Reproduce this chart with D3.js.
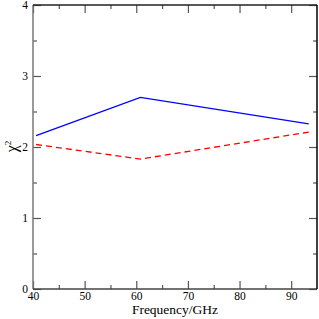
<!DOCTYPE html>
<html>
<head>
<meta charset="utf-8">
<script src="https://cdn.jsdelivr.net/npm/d3@7"></script>
<style>
  body { margin: 0; background: #fff; }
  text { font-family: "Liberation Serif", "DejaVu Serif", serif; }
</style>
</head>
<body>
<div id="chart"></div>
<script>
// values
const freq = [40.6, 60.8, 93.4];
const chiSolid = [2.16, 2.70, 2.325];
const chiDashed = [2.035, 1.83, 2.21];
const xTicks = [40, 50, 60, 70, 80, 90];
const yTicks = [0, 1, 2, 3, 4];

const W = 319, H = 319;
const margin = {top: 5, right: 2, bottom: 30, left: 33};
const width = W - margin.left - margin.right;
const height = H - margin.top - margin.bottom;

const svg = d3.select("#chart").append("svg")
  .attr("width", W)
  .attr("height", H);

const g = svg.append("g")
  .attr("transform", "translate(" + margin.left + "," + margin.top + ")");

const x = d3.scaleLinear().domain([40, 95]).range([0, width]);
const y = d3.scaleLinear().domain([0, 4]).range([height, 0]);

// minor ticks every 5 / 0.5
const xMinor = d3.range(45, 95, 10);
const yMinor = d3.range(0.5, 4, 1);

function tickStyle(sel) {
  sel.select(".domain").remove();
  sel.selectAll("line").attr("stroke", "#555").attr("stroke-width", 1.2);
}

// bottom axis, ticks pointing in
g.append("g")
  .attr("transform", "translate(0," + height + ")")
  .call(d3.axisBottom(x).tickValues(xTicks).tickSizeInner(-8).tickSizeOuter(0))
  .call(tickStyle)
  .call(a => a.selectAll("text").attr("font-size", 11.5).attr("fill", "#000").attr("y", 10.5).attr("dy", 0));
g.append("g")
  .attr("transform", "translate(0," + height + ")")
  .call(d3.axisBottom(x).tickValues(xMinor).tickSizeInner(-4).tickSizeOuter(0).tickFormat(""))
  .call(tickStyle);

// top ticks
g.append("g")
  .call(d3.axisTop(x).tickValues(xTicks).tickSizeInner(-8).tickSizeOuter(0).tickFormat(""))
  .call(tickStyle);
g.append("g")
  .call(d3.axisTop(x).tickValues(xMinor).tickSizeInner(-4).tickSizeOuter(0).tickFormat(""))
  .call(tickStyle);

// left axis
g.append("g")
  .call(d3.axisLeft(y).tickValues(yTicks).tickSizeInner(-8).tickSizeOuter(0).tickPadding(5).tickFormat(d3.format("d")))
  .call(tickStyle)
  .call(a => a.selectAll("text").attr("font-size", 11.5).attr("fill", "#000").attr("dy", "0.34em"));
g.append("g")
  .call(d3.axisLeft(y).tickValues(yMinor).tickSizeInner(-4).tickSizeOuter(0).tickFormat(""))
  .call(tickStyle);

// right ticks
g.append("g")
  .attr("transform", "translate(" + width + ",0)")
  .call(d3.axisRight(y).tickValues(yTicks).tickSizeInner(-8).tickSizeOuter(0).tickFormat(""))
  .call(tickStyle);
g.append("g")
  .attr("transform", "translate(" + width + ",0)")
  .call(d3.axisRight(y).tickValues(yMinor).tickSizeInner(-4).tickSizeOuter(0).tickFormat(""))
  .call(tickStyle);

// frame
g.append("line").attr("x1", 0).attr("x2", 0).attr("y1", 0).attr("y2", height)
  .attr("stroke", "#777").attr("stroke-width", 1.5);
g.append("line").attr("x1", 0).attr("x2", width).attr("y1", height).attr("y2", height)
  .attr("stroke", "#444").attr("stroke-width", 1.5);
g.append("line").attr("x1", 0).attr("x2", width).attr("y1", 0).attr("y2", 0)
  .attr("stroke", "#222").attr("stroke-width", 1.5);
g.append("line").attr("x1", width).attr("x2", width).attr("y1", 0).attr("y2", height)
  .attr("stroke", "#000").attr("stroke-width", 1.5);

const line = d3.line()
  .x((d, i) => x(freq[i]))
  .y(d => y(d));

g.append("path")
  .datum(chiSolid)
  .attr("d", line)
  .attr("fill", "none")
  .attr("stroke", "#0000ff")
  .attr("stroke-width", 1.3);

g.append("path")
  .datum(chiDashed)
  .attr("d", line)
  .attr("fill", "none")
  .attr("stroke", "#ff0000")
  .attr("stroke-width", 1.3)
  .attr("stroke-dasharray", "6,4");

// axis labels
svg.append("text")
  .attr("x", margin.left + width / 2)
  .attr("y", 314)
  .attr("text-anchor", "middle")
  .attr("font-size", 13.5)
  .text("Frequency/GHz");

const yl = svg.append("text")
  .attr("transform", "translate(17," + (margin.top + y(2.0) - 0.5) + ") rotate(-90)")
  .attr("text-anchor", "middle")
  .attr("font-size", 16);
yl.append("tspan").text("χ");
yl.append("tspan").attr("font-size", 9).attr("dy", "-0.7em").text("2");
</script>
</body>
</html>
